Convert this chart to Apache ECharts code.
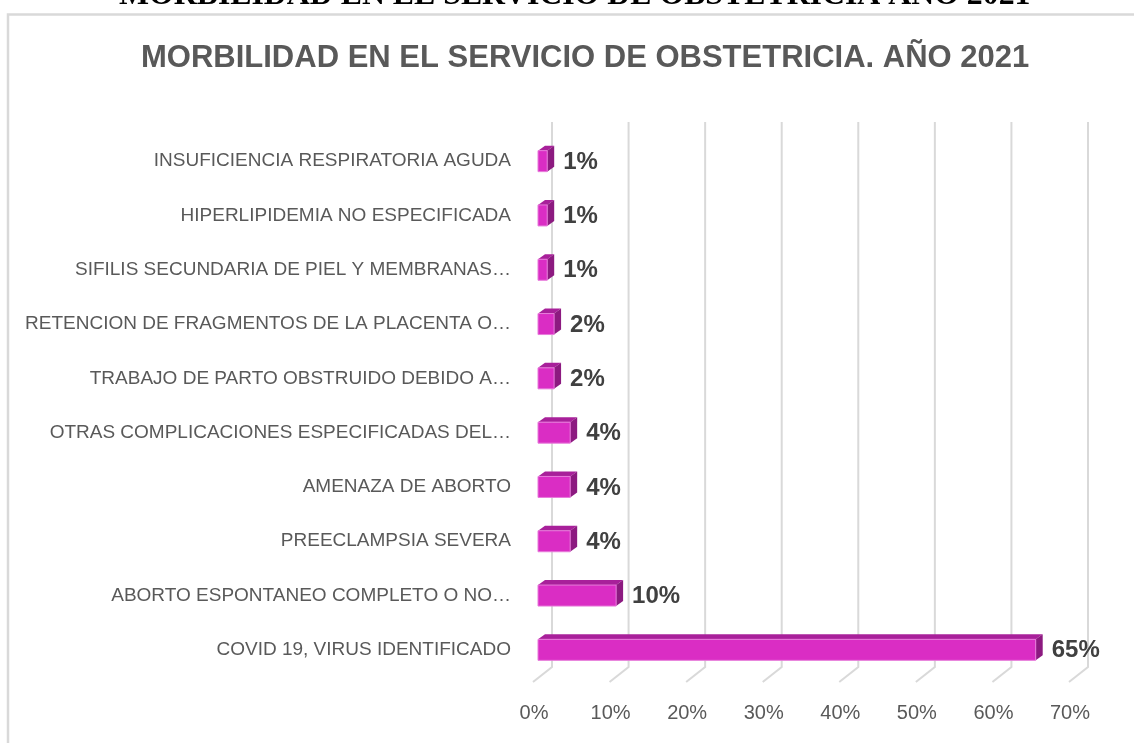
<!DOCTYPE html>
<html>
<head>
    <meta charset="utf-8">
    <title>Morbilidad obstetricia 2021</title>
    <script src="https://cdn.jsdelivr.net/npm/echarts@6/dist/echarts.min.js"></script>
    <style>
        html, body { margin: 0; padding: 0; background: #fff; }
        #chart { width: 1134px; height: 743px; }
    </style>
</head>
<body>
    <div id="chart"></div>
    <script>
        // categorias de arriba hacia abajo
        var categories = [
            'INSUFICIENCIA RESPIRATORIA AGUDA',
            'HIPERLIPIDEMIA NO ESPECIFICADA',
            'SIFILIS SECUNDARIA DE PIEL Y MEMBRANAS…',
            'RETENCION DE FRAGMENTOS DE LA PLACENTA O…',
            'TRABAJO DE PARTO OBSTRUIDO DEBIDO A…',
            'OTRAS COMPLICACIONES ESPECIFICADAS DEL…',
            'AMENAZA DE ABORTO',
            'PREECLAMPSIA SEVERA',
            'ABORTO ESPONTANEO COMPLETO O NO…',
            'COVID 19, VIRUS IDENTIFICADO'
        ];
        var percentValues = [1.2, 1.2, 1.2, 2.1, 2.1, 4.2, 4.2, 4.2, 10.2, 65.0];
        var xTicks = [0, 10, 20, 30, 40, 50, 60, 70];

        var chart = echarts.init(document.getElementById('chart'));

        // profundidad 3D de las barras
        var DX = 7, DY = 5, BAR_H = 21;

        var option = {
            backgroundColor: '#fff',
            animation: false,
            title: {
                text: 'MORBILIDAD EN EL SERVICIO DE OBSTETRICIA. AÑO 2021',
                left: 136,
                top: 38,
                textStyle: {
                    fontFamily: "'Liberation Sans', sans-serif",
                    fontSize: 31,
                    fontWeight: 'bold',
                    color: '#595959'
                }
            },
            graphic: [
                {
                    type: 'text',
                    left: 119,
                    top: -20,
                    style: {
                        text: 'MORBILIDAD EN EL SERVICIO DE OBSTETRICIA AÑO 2021',
                        font: "bold 31.8px 'Liberation Serif', serif",
                        fill: '#000'
                    }
                },
                {
                    type: 'polyline',
                    shape: { points: [[8, 743], [8, 14.5], [1134, 14.5]] },
                    style: { stroke: '#D9D9D9', lineWidth: 2.5, fill: null }
                }
            ],
            grid: {
                left: 538,
                right: 60,
                top: 134,
                bottom: 66
            },
            xAxis: {
                type: 'value',
                min: 0,
                max: 70,
                interval: 10,
                axisLine: { show: false },
                axisTick: { show: false },
                splitLine: { show: false },
                axisLabel: {
                    margin: 26,
                    padding: [0, 8, 0, 0],
                    fontFamily: "'Liberation Sans', sans-serif",
                    fontSize: 20,
                    color: '#595959',
                    formatter: '{value}%'
                }
            },
            yAxis: {
                type: 'category',
                inverse: true,
                data: categories,
                axisLine: { show: false },
                axisTick: { show: false },
                axisLabel: {
                    margin: 27,
                    fontFamily: "'Liberation Sans', sans-serif",
                    fontSize: 19,
                    color: '#595959'
                }
            },
            series: [
                {
                    // lineas de division con pared y piso 3D
                    type: 'custom',
                    z: 1,
                    silent: true,
                    data: xTicks.map(function (t) { return [t, 0]; }),
                    encode: { x: 0, y: 1 },
                    renderItem: function (params, api) {
                        var x = api.coord([api.value(0), 0])[0];
                        var cs = params.coordSys;
                        var top = cs.y - 12;
                        var floorBack = cs.y + cs.height - 10;
                        var floorFront = cs.y + cs.height + 5;
                        return {
                            type: 'polyline',
                            shape: {
                                points: [[x + 14, top], [x + 14, floorBack], [x - 5, floorFront]]
                            },
                            style: { stroke: '#D9D9D9', lineWidth: 2, fill: null }
                        };
                    }
                },
                {
                    type: 'custom',
                    z: 5,
                    data: percentValues.map(function (v, i) { return [v, i]; }),
                    encode: { x: 0, y: 1 },
                    renderItem: function (params, api) {
                        var v = api.value(0);
                        var idx = api.value(1);
                        var p0 = api.coord([0, idx]);
                        var p1 = api.coord([v, idx]);
                        var x0 = p0[0], x1 = p1[0];
                        var y0 = p0[1] - BAR_H / 2;
                        return {
                            type: 'group',
                            children: [
                                {
                                    type: 'polygon',
                                    shape: { points: [[x0, y0], [x1, y0], [x1 + DX, y0 - DY], [x0 + DX, y0 - DY]] },
                                    style: { fill: '#A8209A' }
                                },
                                {
                                    type: 'polygon',
                                    shape: { points: [[x1, y0], [x1 + DX, y0 - DY], [x1 + DX, y0 + BAR_H - DY], [x1, y0 + BAR_H]] },
                                    style: { fill: '#8C1A80' }
                                },
                                {
                                    type: 'rect',
                                    shape: { x: x0, y: y0, width: x1 - x0, height: BAR_H },
                                    style: { fill: '#DA2DC4', stroke: '#E77BDA', lineWidth: 1 }
                                },
                                {
                                    type: 'text',
                                    x: x1 + DX + 9,
                                    y: p0[1] + 1,
                                    style: {
                                        text: Math.round(v) + '%',
                                        font: "bold 24px 'Liberation Sans', sans-serif",
                                        fill: '#404040',
                                        verticalAlign: 'middle',
                                        align: 'left'
                                    }
                                }
                            ]
                        };
                    }
                }
            ]
        };

        chart.setOption(option);
    </script>
</body>
</html>
